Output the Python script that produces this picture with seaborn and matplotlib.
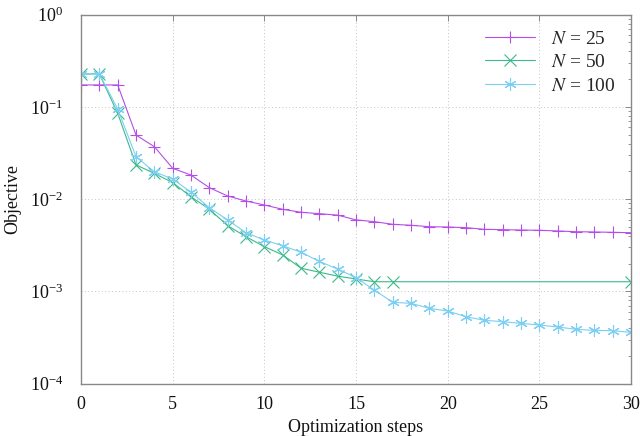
import numpy as np
import pandas as pd
import matplotlib
matplotlib.use("Agg")
import matplotlib.pyplot as plt
import seaborn as sns

# ---- data ----
steps_25 = list(range(31))
obj_25 = [0.173, 0.173, 0.173, 0.0495, 0.037, 0.0216, 0.0182, 0.0133, 0.0108, 0.00953,
          0.00863, 0.00775, 0.0072, 0.00695, 0.0067, 0.00595, 0.00569, 0.00533, 0.0052,
          0.00502, 0.00498, 0.0049, 0.0047, 0.00466, 0.00462, 0.00459, 0.00451, 0.00443,
          0.0044, 0.00436, 0.00432]

steps_50 = list(range(18)) + [30]
obj_50 = [0.2275, 0.2275, 0.0853, 0.0235, 0.019, 0.0151, 0.0106, 0.00775, 0.00515, 0.00391,
          0.00305, 0.00248, 0.00178, 0.00161, 0.00146, 0.00136, 0.00127, 0.00127, 0.00127]

steps_100 = list(range(31))
obj_100 = [0.2275, 0.2275, 0.0949, 0.0288, 0.0198, 0.0165, 0.0119, 0.00807, 0.00593, 0.00432,
           0.0036, 0.00312, 0.00265, 0.00211, 0.00174, 0.00141, 0.00103, 0.00076, 0.00074,
           0.000654, 0.000611, 0.00053, 0.000485, 0.000468, 0.000449, 0.000431, 0.00041,
           0.000387, 0.000377, 0.000374, 0.000359]

labels = [r"$N$ = 25", r"$N$ = 50", r"$N$ = 100"]
colors = ["#b44ee6", "#3cb98a", "#7ccff2"]
markers = ["+", "x", (6, 2, 0)]

sns.set_theme(style="white")
plt.rcParams["font.family"] = ["Liberation Serif", "DejaVu Serif"]
plt.rcParams["mathtext.fontset"] = "stix"

fig = plt.figure(figsize=(6.4, 4.36), dpi=100)
ax = fig.add_axes([0.1266, 0.1204, 0.8594, 0.8459])

series = [(steps_25, obj_25), (steps_50, obj_50), (steps_100, obj_100)]
for (xs, ys), lab, col, mk in zip(series, labels, colors, markers):
    df = pd.DataFrame({"step": xs, "obj": ys})
    sns.lineplot(data=df, x="step", y="obj", ax=ax, color=col, marker=mk,
                 markersize=9, markeredgewidth=0.8, linewidth=0.8, label=lab,
                 markeredgecolor=col)

ax.set_yscale("log")
ax.set_xlim(0, 30)
ax.set_ylim(1e-4, 1)
ax.set_xticks([0, 5, 10, 15, 20, 25, 30])
ax.set_yticks([1e-4, 1e-3, 1e-2, 1e-1, 1])
ax.yaxis.set_minor_locator(matplotlib.ticker.LogLocator(base=10, subs=np.arange(2, 10), numticks=20))
ax.yaxis.set_minor_formatter(matplotlib.ticker.NullFormatter())

ax.grid(True, which="major", linestyle=(0, (1, 2.5)), color="#c4c4c4", linewidth=0.7)
ax.tick_params(axis="both", which="both", direction="in", top=True, right=True,
               labelsize=13)
ax.tick_params(which="major", length=4, width=0.7, color="#888888")
ax.tick_params(which="minor", length=2.5, width=0.6, color="#888888")
for s in ax.spines.values():
    s.set_color("#888888")
    s.set_linewidth(1.0)
ax.tick_params(axis="x", labelcolor="#111111", pad=9)
ax.tick_params(axis="y", labelcolor="#111111", pad=13)

ax.set_xlabel("Optimization steps", fontsize=13, color="#111111", labelpad=4)
ax.set_ylabel("Objective", fontsize=13, color="#111111", labelpad=6)

leg = ax.legend(loc="upper right", frameon=False, fontsize=14, handlelength=2.6,
                borderaxespad=0.4, labelspacing=0.3)

fig.savefig("out.png", dpi=100)
